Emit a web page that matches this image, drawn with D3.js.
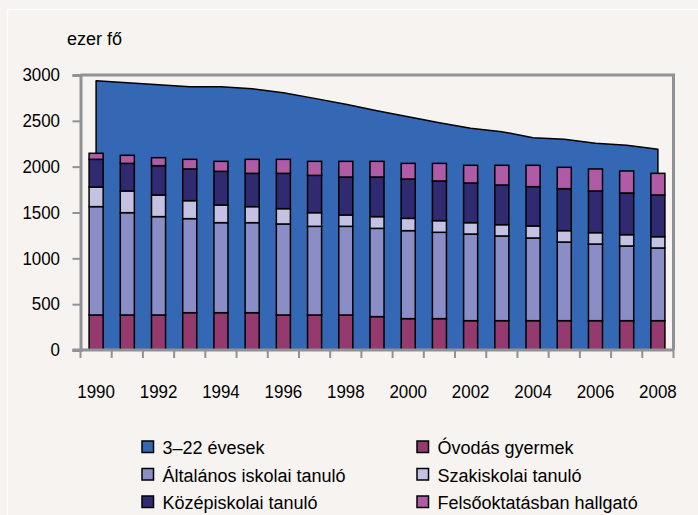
<!DOCTYPE html>
<html>
<head>
<meta charset="utf-8">
<script src="https://cdn.jsdelivr.net/npm/d3@7"></script>
<style>
  body { margin: 0; background: #f6f3f0; }
  svg { display: block; }
  text { font-family: "Liberation Sans", Arial, sans-serif; font-size: 18px; fill: #000; }
</style>
</head>
<body>
<svg id="chart" width="698" height="515"></svg>
<script>
    // data (ezer fő)
    var years = [1990, 1991, 1992, 1993, 1994, 1995, 1996, 1997, 1998, 1999,
      2000, 2001, 2002, 2003, 2004, 2005, 2006, 2007, 2008];
    var evesek = [2938, 2916, 2894, 2873, 2873, 2851, 2807, 2745, 2680, 2611,
      2545, 2480, 2418, 2382, 2316, 2298, 2255, 2233, 2189];
    var ovodas = [382, 382, 382, 407, 407, 407, 382, 382, 382, 364,
      342, 342, 320, 320, 320, 320, 320, 320, 320];
    var altalanos = [1182, 1116, 1073, 1026, 982, 982, 993, 967, 967, 963,
      960, 942, 945, 924, 902, 858, 836, 815, 793];
    var szakiskolai = [214, 237, 236, 196, 193, 175, 167, 149, 124, 128,
      134, 127, 124, 123, 131, 124, 124, 123, 123];
    var kozepiskolai = [302, 301, 320, 346, 367, 363, 385, 407, 414, 432,
      429, 433, 433, 433, 429, 458, 455, 455, 455];
    var felsooktatas = [66, 88, 87, 105, 109, 153, 153, 153, 171, 171,
      171, 192, 193, 215, 233, 233, 240, 240, 236];
    var yTicks = [0, 500, 1000, 1500, 2000, 2500, 3000];
    var xLabels = [1990, 1992, 1994, 1996, 1998, 2000, 2002, 2004, 2006, 2008];

    var seriesNames = ['Óvodás gyermek', 'Általános iskolai tanuló', 'Szakiskolai tanuló',
      'Középiskolai tanuló', 'Felsőoktatásban hallgató'];
    var seriesColors = ['#943a6e', '#8b8ec6', '#c4c1e2', '#302a70', '#b05ba6'];
    var areaColor = '#3568b4';
    var axisColor = '#8f9296';

    var margin = { top: 75, left: 80.5 };
    var width = 593;
    var height = 275;

    var svg = d3.select('#chart');

    // tick labels in the original are a touch narrower than Liberation Sans
    function tickText(parent, x, y, str, anchor) {
      return parent.append('text')
        .attr('transform', 'translate(' + x + ',' + y + ') scale(0.94,1)')
        .attr('text-anchor', anchor || 'start')
        .text(str);
    }

    // faint white frame of the figure
    svg.append('rect')
      .attr('x', 7.5).attr('y', 9.5)
      .attr('width', 720).attr('height', 540)
      .attr('fill', 'none')
      .attr('stroke', '#ffffff')
      .attr('stroke-width', 1.5);

    var g = svg.append('g')
      .attr('transform', 'translate(' + margin.left + ',' + margin.top + ')');

    var xScale = d3.scaleBand()
      .domain(years)
      .range([0, width])
      .paddingInner(0.55)
      .paddingOuter(0.275);
    var xBand = d3.scaleBand().domain(years).range([0, width]); // for the tick marks
    var yScale = d3.scaleLinear()
      .domain([0, 3000])
      .range([height, 0]);

    function cx(i) {
      return xBand(years[i]) + xBand.bandwidth() / 2;
    }

    // plot frame (top and right)
    g.append('path')
      .attr('d', 'M0,0H' + width + 'V' + height)
      .attr('fill', 'none')
      .attr('stroke', axisColor)
      .attr('stroke-width', 3);

    // area 3-22 évesek
    var area = d3.area()
      .x(function (d, i) { return cx(i); })
      .y0(yScale(0))
      .y1(function (d) { return yScale(d); });
    g.append('path')
      .datum(evesek)
      .attr('d', area)
      .attr('fill', areaColor)
      .attr('stroke', '#000')
      .attr('stroke-width', 1.5)
      .attr('stroke-linejoin', 'round');

    // stacked bars
    var rows = years.map(function (y, i) {
      return { year: y, s0: ovodas[i], s1: altalanos[i], s2: szakiskolai[i], s3: kozepiskolai[i], s4: felsooktatas[i] };
    });
    var stack = d3.stack().keys(['s0', 's1', 's2', 's3', 's4']);
    var layers = stack(rows);

    g.selectAll('g.layer')
      .data(layers)
      .enter()
      .append('g')
      .attr('class', 'layer')
      .attr('fill', function (d, i) { return seriesColors[i]; })
      .selectAll('rect')
      .data(function (d) { return d; })
      .enter()
      .append('rect')
      .attr('x', function (d) { return xScale(d.data.year); })
      .attr('width', xScale.bandwidth())
      .attr('y', function (d) { return yScale(d[1]); })
      .attr('height', function (d) { return yScale(d[0]) - yScale(d[1]); })
      .attr('stroke', '#000')
      .attr('stroke-width', 1.5);

    // y axis (labels drawn separately so they can be narrowed)
    var yAxis = d3.axisLeft(yScale)
      .tickValues(yTicks)
      .tickSize(8)
      .tickFormat('');
    var yG = g.append('g').call(yAxis);
    yG.select('.domain').attr('stroke', axisColor).attr('stroke-width', 3);
    yG.selectAll('.tick line').attr('stroke', axisColor).attr('stroke-width', 2);
    yTicks.forEach(function (t) {
      tickText(g, -20.5, yScale(t) + 6.3, t, 'end');
    });

    // x axis: ticks on category boundaries, labels every second year
    var xG = g.append('g').attr('transform', 'translate(0,' + height + ')');
    xG.append('line')
      .attr('x1', -8).attr('x2', width)
      .attr('stroke', axisColor)
      .attr('stroke-width', 3);
    xG.selectAll('line.tick')
      .data(years.concat([null]))
      .enter()
      .append('line')
      .attr('class', 'tick')
      .attr('x1', function (d, i) { return i < years.length ? xBand(d) : width; })
      .attr('x2', function (d, i) { return i < years.length ? xBand(d) : width; })
      .attr('y1', 0).attr('y2', 8)
      .attr('stroke', axisColor)
      .attr('stroke-width', 2);
    xLabels.forEach(function (yr) {
      tickText(xG, xBand(yr) + xBand.bandwidth() / 2, 48, yr, 'middle');
    });

    // unit label
    svg.append('text')
      .attr('x', 67)
      .attr('y', 45)
      .text('ezer fő');

    // legend
    var legendItems = [
      { name: '3–22 évesek', color: areaColor, col: 0, row: 0 },
      { name: seriesNames[0], color: seriesColors[0], col: 1, row: 0 },
      { name: seriesNames[1], color: seriesColors[1], col: 0, row: 1 },
      { name: seriesNames[2], color: seriesColors[2], col: 1, row: 1 },
      { name: seriesNames[3], color: seriesColors[3], col: 0, row: 2 },
      { name: seriesNames[4], color: seriesColors[4], col: 1, row: 2 }
    ];
    var legend = svg.selectAll('g.legend')
      .data(legendItems)
      .enter()
      .append('g')
      .attr('class', 'legend')
      .attr('transform', function (d) {
        return 'translate(' + (d.col ? 417 : 142) + ',' + (441 + d.row * 27.5) + ')';
      });
    legend.append('rect')
      .attr('width', 11.5).attr('height', 11.5)
      .attr('fill', function (d) { return d.color; })
      .attr('stroke', '#000')
      .attr('stroke-width', 1.5);
    legend.append('text')
      .attr('x', 20.5)
      .attr('y', 13)
      .text(function (d) { return d.name; });
</script>
</body>
</html>
